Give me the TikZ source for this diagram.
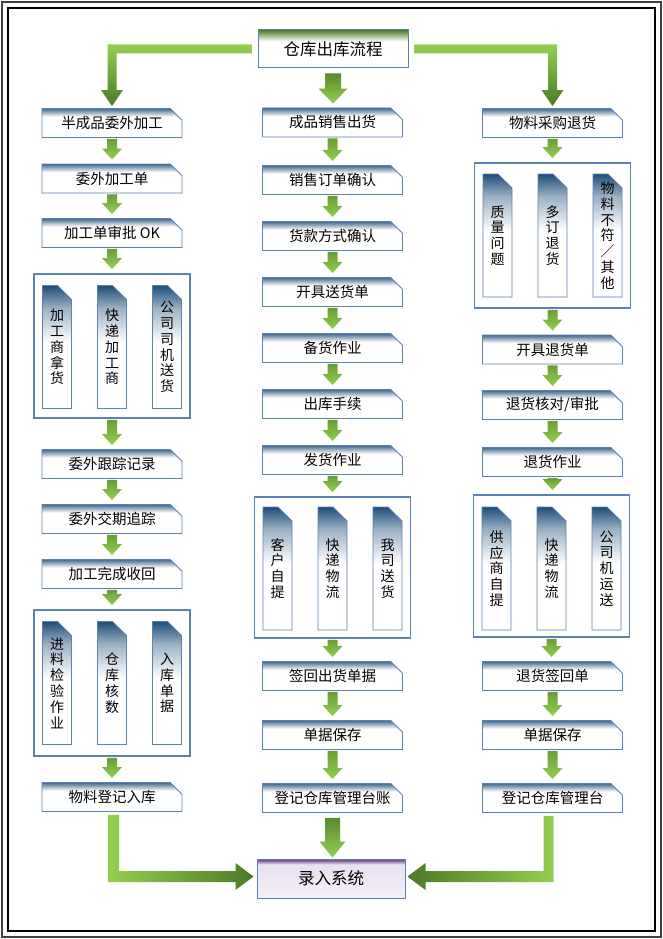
\documentclass[tikz,border=0pt]{standalone}
\usepackage{fontspec}
\setmainfont{Noto Sans CJK SC}
\usetikzlibrary{calc,shapes.misc}

\definecolor{edgeblue}{HTML}{5B82B3}
\definecolor{navy}{HTML}{1F4E79}
\definecolor{leaf}{HTML}{92D050}
\definecolor{grass}{HTML}{6A9E35}
\definecolor{moss}{HTML}{4A7A26}
\definecolor{plum}{HTML}{5E2D79}
\definecolor{lilac}{HTML}{EAE1F2}

\pgfdeclareverticalshading{steptop}{100bp}{color(0bp)=(white); color(25bp)=(white); color(61bp)=(white); color(75bp)=(navy!85); color(100bp)=(navy!85)}
\pgfdeclareverticalshading{tabtop}{100bp}{color(0bp)=(white); color(25bp)=(white); color(52bp)=(white); color(66bp)=(navy!45); color(75bp)=(navy); color(100bp)=(navy)}
\pgfdeclareverticalshading{headtop}{100bp}{color(0bp)=(white); color(25bp)=(white); color(60bp)=(white); color(75bp)=(moss); color(100bp)=(moss)}
\pgfdeclareverticalshading{systop}{100bp}{color(0bp)=(white); color(25bp)=(lilac!50); color(62bp)=(lilac); color(68bp)=(lilac); color(75bp)=(plum); color(100bp)=(plum)}

\tikzset{
  stepbox/.style={chamfered rectangle, chamfered rectangle corners=north east,
    chamfered rectangle xsep=9pt, chamfered rectangle ysep=5pt,
    draw=edgeblue, line width=0.9pt, shade, shading=steptop,
    minimum width=140pt, minimum height=29pt, inner sep=0pt,
    font=\fontsize{14.5}{16}\selectfont},
  tabbox/.style={chamfered rectangle, chamfered rectangle corners=north east,
    chamfered rectangle xsep=7pt, chamfered rectangle ysep=8pt,
    draw=edgeblue, line width=0.9pt, shade, shading=tabtop,
    minimum width=29pt, minimum height=123pt, inner sep=0pt, align=center,
    font=\fontsize{14}{15.8}\selectfont},
  groupbox/.style={draw=edgeblue, line width=1.8pt, fill=white,
    minimum width=156pt, inner sep=0pt},
  headbox/.style={draw=edgeblue, line width=1pt, shade, shading=headtop,
    minimum width=150pt, minimum height=38pt, font=\fontsize{16.5}{18}\selectfont},
  sysbox/.style={draw=edgeblue, line width=1pt, shade, shading=systop,
    minimum width=148pt, minimum height=39pt, font=\fontsize{16.5}{18}\selectfont},
  flowshade/.style={top color=grass, bottom color=leaf},
}

\newcommand\flowarrow[2]{%
  \shade[flowshade] let \p1=(#1.south), \p2=(#2.north) in
    (\x1-5pt,\y1-1pt) -- (\x1+5pt,\y1-1pt) -- (\x1+5pt,\y2+15pt) -- (\x1+10pt,\y2+15pt)
    -- (\x1,\y2+4pt) -- (\x1-10pt,\y2+15pt) -- (\x1-5pt,\y2+15pt) -- cycle;}

\begin{document}
\begin{tikzpicture}[x=1pt,y=-1pt]
  \useasboundingbox (0,0) rectangle (663,939);
  \draw[line width=2.5pt, draw=black!75] (2,2) rectangle (661,937);
  \draw[line width=1.2pt] (8,8) rectangle (655,931);

  \node[headbox] (top) at (333,49) {仓库出库流程};
  \node[sysbox] (sys) at (331,878.5) {录入系统};

  % left column
  \node[stepbox] (l1) at (112,123) {半成品委外加工};
  \node[stepbox] (l2) at (112,178.5) {委外加工单};
  \node[stepbox] (l3) at (112,233) {加工单审批 OK};
  \node[groupbox, minimum height=144pt] (lg1) at (112,346) {};
  \node[stepbox] (l4) at (112,464) {委外跟踪记录};
  \node[stepbox] (l5) at (112,519) {委外交期追踪};
  \node[stepbox] (l6) at (112,574) {加工完成收回};
  \node[groupbox, minimum height=146pt] (lg2) at (112,683) {};
  \node[stepbox] (l7) at (112,797) {物料登记入库};

  % middle column
  \node[stepbox] (m1) at (332.5,122.5) {成品销售出货};
  \node[stepbox] (m2) at (332.5,180) {销售订单确认};
  \node[stepbox] (m3) at (332.5,236) {货款方式确认};
  \node[stepbox] (m4) at (332.5,292) {开具送货单};
  \node[stepbox] (m5) at (332.5,348) {备货作业};
  \node[stepbox] (m6) at (332.5,404) {出库手续};
  \node[stepbox] (m7) at (332.5,460) {发货作业};
  \node[groupbox, minimum height=141pt] (mg) at (332.5,567.5) {};
  \node[stepbox] (m8) at (332.5,676) {签回出货单据};
  \node[stepbox] (m9) at (332.5,735) {单据保存};
  \node[stepbox] (m10) at (332.5,798) {登记仓库管理台账};

  % right column
  \node[stepbox] (r1) at (552.5,123) {物料采购退货};
  \node[groupbox, minimum height=145pt] (rg1) at (552.5,235.5) {};
  \node[stepbox] (r2) at (552.5,349.5) {开具退货单};
  \node[stepbox] (r3) at (552.5,405) {退货核对/审批};
  \node[stepbox] (r4) at (552.5,462) {退货作业};
  \node[groupbox, minimum height=142pt] (rg2) at (551.5,566) {};
  \node[stepbox] (r5) at (552.5,676) {退货签回单};
  \node[stepbox] (r6) at (552.5,735) {单据保存};
  \node[stepbox] (r7) at (552.5,798) {登记仓库管理台};

  % tabs inside the groups
  \foreach \t [count=\i] in {{加\\工\\商\\拿\\货},{快\\递\\加\\工\\商},{公\\司\\司\\机\\送\\货}}
    \node[tabbox] (lt\i) at ($(lg1)+(55*\i-110,1)$) {\t};
  \foreach \t [count=\i] in {{进\\料\\检\\验\\作\\业},{仓\\库\\核\\数},{入\\库\\单\\据}}
    \node[tabbox] (lu\i) at ($(lg2)+(55*\i-110,0)$) {\t};
  \foreach \t [count=\i] in {{客\\户\\自\\提},{快\\递\\物\\流},{我\\司\\送\\货}}
    \node[tabbox] (mt\i) at ($(mg)+(55*\i-110,1)$) {\t};
  \foreach \t [count=\i] in {{质\\量\\问\\题},{多\\订\\退\\货},{物\\料\\不\\符\\／\\其\\他}}
    \node[tabbox] (rt\i) at ($(rg1)+(55*\i-110,0)$) {\t};
  \foreach \t [count=\i] in {{供\\应\\商\\自\\提},{快\\递\\物\\流},{公\\司\\机\\运\\送}}
    \node[tabbox] (ru\i) at ($(rg2)+(55*\i-110,2.5)$) {\t};

  % short arrows
  \foreach \a/\b in {l1/l2,l2/l3,l3/lg1,lg1/l4,l4/l5,l5/l6,l6/lg2,lg2/l7,
      m1/m2,m2/m3,m3/m4,m4/m5,m5/m6,m6/m7,m7/mg,mg/m8,m8/m9,m9/m10,
      r1/rg1,rg1/r2,r2/r3,r3/r4,r4/rg2,rg2/r5,r5/r6,r6/r7}
    {\flowarrow{\a}{\b}}

  % title to the three columns
  \shade[top color=leaf, bottom color=moss] let \p1=(top.west), \p2=(l1.north) in
    (\x1-6pt,\y1+4.5pt) -- (\x2-4.5pt,\y1+4.5pt) -- (\x2-4.5pt,\y2+18pt) -- (\x2-11pt,\y2+18pt)
    -- (\x2,\y2+2pt) -- (\x2+11pt,\y2+18pt) -- (\x2+4.5pt,\y2+18pt) -- (\x2+4.5pt,\y1-4.5pt)
    -- (\x1-6pt,\y1-4.5pt) -- cycle;
  \shade[top color=leaf, bottom color=moss] let \p1=(top.east), \p2=(r1.north) in
    (\x1+6pt,\y1+4.5pt) -- (\x2+4.5pt,\y1+4.5pt) -- (\x2+4.5pt,\y2+18pt) -- (\x2+11pt,\y2+18pt)
    -- (\x2,\y2+2pt) -- (\x2-11pt,\y2+18pt) -- (\x2-4.5pt,\y2+18pt) -- (\x2-4.5pt,\y1-4.5pt)
    -- (\x1+6pt,\y1-4.5pt) -- cycle;
  \shade[top color=moss!80!leaf, bottom color=leaf] let \p1=(top.south), \p2=(m1.north) in
    (\x1-8pt,\y1-5pt) -- (\x1+8pt,\y1-5pt) -- (\x1+8pt,\y2+19pt) -- (\x1+14.5pt,\y2+19pt)
    -- (\x1,\y2+4pt) -- (\x1-14.5pt,\y2+19pt) -- (\x1-8pt,\y2+19pt) -- cycle;

  % columns to the system
  \shade[top color=moss!80!leaf, bottom color=leaf] let \p1=(m10.south), \p2=(sys.north) in
    (\x1-7.5pt,\y1-5pt) -- (\x1+7.5pt,\y1-5pt) -- (\x1+7.5pt,\y2+17pt) -- (\x1+13pt,\y2+17pt)
    -- (\x1,\y2+1pt) -- (\x1-13pt,\y2+17pt) -- (\x1-7.5pt,\y2+17pt) -- cycle;
  \shade[left color=leaf, right color=moss] let \p1=(l7.south), \p2=(sys.west) in
    (\x1-4pt,\y1-3pt) -- (\x1+7pt,\y1-3pt) -- (\x1+7pt,\y2+7.5pt) -- (\x2-21pt,\y2+7.5pt)
    -- (\x2-21pt,\y2+15.5pt) -- (\x2-3pt,\y2+2pt) -- (\x2-21pt,\y2-11.5pt) -- (\x2-21pt,\y2-3.5pt)
    -- (\x1-4pt,\y2-3.5pt) -- cycle;
  \shade[left color=moss, right color=leaf] let \p1=(r7.south), \p2=(sys.east) in
    (\x1+1pt,\y1-3pt) -- (\x1-9pt,\y1-3pt) -- (\x1-9pt,\y2+7.5pt) -- (\x2+20pt,\y2+7.5pt)
    -- (\x2+20pt,\y2+15.5pt) -- (\x2+2pt,\y2+2pt) -- (\x2+20pt,\y2-11.5pt) -- (\x2+20pt,\y2-3.5pt)
    -- (\x1+1pt,\y2-3.5pt) -- cycle;
\end{tikzpicture}
\end{document}
